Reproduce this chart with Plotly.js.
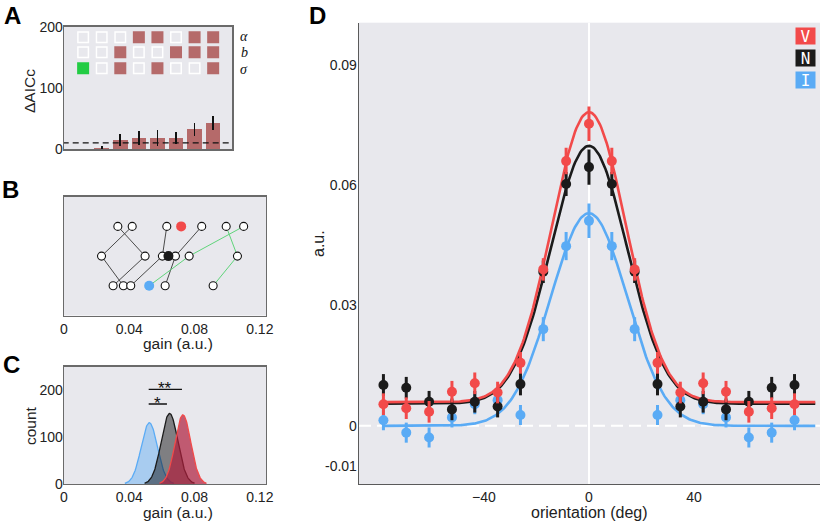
<!DOCTYPE html>
<html><head><meta charset="utf-8">
<script src="https://cdn.plot.ly/plotly-3.0.1.min.js"></script>
<style>html,body{margin:0;padding:0;background:#fff}#chart{width:820px;height:521px}</style>
</head><body><div id="chart"></div>
<script>
// ---------- Panel A data ----------
const aModels = ['m1','m2','m3','m4','m5','m6','m7','m8'];
const aDeltaAICc = [0, 2, 15.3, 18.6, 18.6, 19.1, 32.8, 42.6];
const aErr = [0, 3, 10, 12, 12.5, 10, 10.5, 11.5];
const aThreshold = 10.4;
const aParamLabels = ['α', 'b', 'σ'];
const aHasAlpha = [0, 0, 0, 1, 1, 0, 1, 1];
const aHasB     = [0, 0, 1, 0, 0, 1, 1, 1];
const aHasSigma = [2, 0, 1, 0, 1, 0, 0, 1]; // 2 = best model

// ---------- Panel B data (gain, a.u.) ----------
const bTop = [0.0330, 0.0418, 0.0630, 0.0844, 0.0994, 0.1101];
const bMid = [0.0230, 0.0497, 0.0603, 0.0683, 0.0767, 0.1063];
const bBot = [0.0301, 0.0364, 0.0409, 0.0620, 0.0914];
const bV = 0.0718, bN = 0.0640, bI = 0.0522;
const bEdgesBlack = [['T0','M1'],['T1','M0'],['M0','B1'],['M1','B0'],['B2','M2'],['T2','M2'],['T3','M3'],['M3','B3']];
const bEdgesGreen = [['I','M4'],['M4','T5'],['T4','M5'],['M5','B4']];

// ---------- Panel C data ----------
const cGroups = ['I', 'N', 'V'];
const cMean = [0.0523, 0.0647, 0.0729];
const cSd = [0.0050, 0.0051, 0.0048];
const cPeak = [131, 151, 148];
const cSigStart = [0.0519, 0.0519];
const cSigEnd = [0.0723, 0.0631];
const cSigLevel = [202.6, 171.2];
const cSigLabel = ['**', '*'];

// ---------- Panel D data ----------
const dOrient = [-78.3,-69.6,-60.9,-52.2,-43.5,-34.8,-26.1,-17.4,-8.7,0,8.7,17.4,26.1,34.8,43.5,52.2,60.9,69.6,78.3];
const dV = [0.0054,0.0044,0.0035,0.0085,0.0106,0.0083,0.0157,0.0390,0.0660,0.0753,0.0660,0.0390,0.0157,0.0083,0.0106,0.0085,0.0035,0.0044,0.0054];
const dN = [0.0102,0.0095,0.0060,0.0041,0.0060,0.0048,0.0104,0.0384,0.0603,0.0645,0.0603,0.0384,0.0104,0.0048,0.0060,0.0041,0.0060,0.0095,0.0102];
const dI = [0.0014,-0.0017,-0.0029,0.0021,0.0054,0.0064,0.0027,0.0241,0.0448,0.0511,0.0448,0.0241,0.0027,0.0064,0.0054,0.0021,-0.0029,-0.0017,0.0014];
const dErrV = [0.0027,0.0027,0.0027,0.0027,0.0027,0.0027,0.0027,0.0028,0.0033,0.0043,0.0033,0.0028,0.0027,0.0027,0.0027,0.0027,0.0027,0.0027,0.0027];
const dErrN = [0.0027,0.0027,0.0027,0.0027,0.0027,0.0027,0.0028,0.0028,0.0030,0.0044,0.0030,0.0028,0.0028,0.0027,0.0027,0.0027,0.0027,0.0027,0.0027];
const dErrI = [0.0025,0.0025,0.0025,0.0025,0.0025,0.0025,0.0025,0.0030,0.0035,0.0043,0.0035,0.0030,0.0025,0.0025,0.0025,0.0025,0.0025,0.0025,0.0025];
const dFitPeak = [0.0782, 0.0698, 0.0530];   // V, N, I
const dFitBase = [0.0059, 0.0055, 0.0];
const dFitSigma = [14.2, 14.5, 14.5];
const dFitEnd = 86.6;
const dLegend = ['V', 'N', 'I'];

// ---------- styling ----------
const W = 820, H = 521;
const fx = x => x / W, fy = y => 1 - y / H;
const FONT = 'Liberation Sans, Arial, Helvetica, sans-serif';
const BG = '#e8e8ed';
const RED = '#f24a4a', BLK = '#1b1b1b', BLU = '#5aabf5', BAR = '#b56a6a', GRN = '#22cc44';
const SERIES_COL = [RED, BLK, BLU];

const traces = [];

// Panel A bars
const aIdx = aModels.map((m, i) => i);
traces.push({type:'bar', x:aIdx, y:aDeltaAICc, width:0.78, marker:{color:BAR, line:{width:0}},
  error_y:{type:'data', array:aErr, color:'#111', thickness:1.6, width:0},
  xaxis:'x', yaxis:'y', hoverinfo:'skip', showlegend:false});
traces.push({type:'scatter', mode:'lines', x:[-1.1, 8.1], y:[aThreshold, aThreshold],
  line:{color:'#111', width:1.3, dash:'6px,4px'}, xaxis:'x', yaxis:'y', showlegend:false, hoverinfo:'skip'});
// model grid squares
const rowLevels = [183.6, 159.0, 132.8];
const rows = [aHasAlpha, aHasB, aHasSigma];
const sq = {empty:{x:[],y:[]}, full:{x:[],y:[]}, best:{x:[],y:[]}};
rows.forEach((r, ri) => r.forEach((v, ci) => {
  const t = v === 2 ? sq.best : (v === 1 ? sq.full : sq.empty);
  t.x.push(ci); t.y.push(rowLevels[ri]);
}));
traces.push({type:'scatter', mode:'markers', x:sq.empty.x, y:sq.empty.y, marker:{symbol:'square', size:10.5, color:BG, line:{color:'#ffffff', width:1.5}}, xaxis:'x', yaxis:'y', showlegend:false, hoverinfo:'skip'});
traces.push({type:'scatter', mode:'markers', x:sq.full.x, y:sq.full.y, marker:{symbol:'square', size:12, color:BAR, line:{width:0}}, xaxis:'x', yaxis:'y', showlegend:false, hoverinfo:'skip'});
traces.push({type:'scatter', mode:'markers', x:sq.best.x, y:sq.best.y, marker:{symbol:'square', size:12, color:GRN, line:{width:0}}, xaxis:'x', yaxis:'y', showlegend:false, hoverinfo:'skip'});

// Panel B
const nodes = {};
bTop.forEach((g, i) => nodes['T' + i] = [g, 3]);
bMid.forEach((g, i) => nodes['M' + i] = [g, 2]);
bBot.forEach((g, i) => nodes['B' + i] = [g, 1]);
nodes.V = [bV, 3]; nodes.N = [bN, 2]; nodes.I = [bI, 1];
function edgeTrace(edges, color) {
  const x = [], y = [];
  edges.forEach(([a, b]) => { x.push(nodes[a][0], nodes[b][0], null); y.push(nodes[a][1], nodes[b][1], null); });
  return {type:'scatter', mode:'lines', x, y, line:{color, width:1}, xaxis:'x2', yaxis:'y2', showlegend:false, hoverinfo:'skip'};
}
traces.push(edgeTrace(bEdgesBlack, '#4a4a4a'));
traces.push(edgeTrace(bEdgesGreen, '#5fd47a'));
const ox = [], oy = [];
[[bTop,3],[bMid,2],[bBot,1]].forEach(([arr, lv]) => arr.forEach(g => { ox.push(g); oy.push(lv); }));
traces.push({type:'scatter', mode:'markers', x:ox, y:oy, marker:{size:8, color:'#ffffff', line:{color:'#111', width:1.1}}, xaxis:'x2', yaxis:'y2', showlegend:false, hoverinfo:'skip'});
traces.push({type:'scatter', mode:'markers', x:[bV, bN, bI], y:[3, 2, 1], marker:{size:10, color:[RED, BLK, BLU], line:{width:0}}, xaxis:'x2', yaxis:'y2', showlegend:false, hoverinfo:'skip'});

// Panel C
const cLine = [BLU, BLK, RED];
const cFill = ['rgba(90,170,245,0.45)', 'rgba(0,0,0,0.45)', 'rgba(175,30,60,0.7)'];
cGroups.forEach((g, i) => {
  const x = [], y = [];
  for (let k = -60; k <= 60; k++) {
    const gx = cMean[i] + k * 3 * cSd[i] / 60;
    x.push(gx); y.push(cPeak[i] * Math.exp(-0.5 * Math.pow((gx - cMean[i]) / cSd[i], 2)));
  }
  traces.push({type:'scatter', mode:'lines', x, y, fill:'tozeroy', fillcolor:cFill[i], line:{color:cLine[i], width:1.3}, xaxis:'x3', yaxis:'y3', showlegend:false, hoverinfo:'skip'});
});
cSigLabel.forEach((s, i) => {
  traces.push({type:'scatter', mode:'lines', x:[cSigStart[i], cSigEnd[i]], y:[cSigLevel[i], cSigLevel[i]], line:{color:'#111', width:1.3}, xaxis:'x3', yaxis:'y3', showlegend:false, hoverinfo:'skip'});
});

// Panel D fits
const dSeries = [dV, dN, dI], dErrs = [dErrV, dErrN, dErrI];
[2, 1, 0].forEach(i => {
  const x = [], y = [];
  for (let t = dOrient[0]; t <= dFitEnd + 1e-9; t += 0.5) {
    x.push(t); y.push(dFitBase[i] + (dFitPeak[i] - dFitBase[i]) * Math.exp(-t * t / (2 * dFitSigma[i] * dFitSigma[i])));
  }
  traces.push({type:'scatter', mode:'lines', x, y, line:{color:SERIES_COL[i], width:2.6}, xaxis:'x4', yaxis:'y4', showlegend:false, hoverinfo:'skip'});
});
[2, 1, 0].forEach(i => {
  traces.push({type:'scatter', mode:'markers', x:dOrient, y:dSeries[i],
    error_y:{type:'data', array:dErrs[i], color:SERIES_COL[i], thickness:3, width:0},
    marker:{size:10, color:SERIES_COL[i], line:{width:0}}, xaxis:'x4', yaxis:'y4', showlegend:false, hoverinfo:'skip'});
});

// ---------- layout ----------
const tf = {family:FONT, size:14, color:'#222'};
const boxAx = {showgrid:false, zeroline:false, ticks:'', showline:true, mirror:true, linecolor:'#6a6a6a', linewidth:1.3, tickfont:tf, fixedrange:true};
const annotations = [];
function ann(text, x, y, opts) { annotations.push(Object.assign({text, x:fx(x), y:fy(y), xref:'paper', yref:'paper', showarrow:false, xanchor:'center', yanchor:'middle', font:{family:FONT, size:16, color:'#222'}}, opts || {})); }
// panel letters
[['A',12,16],['B',10.5,189],['C',11.2,364],['D',317.5,15]].forEach(([t,x,y]) => ann('<b>'+t+'</b>', x, y, {font:{family:FONT, size:24, color:'#000'}}));
// titles
ann('ΔAICc', 30, 91, {textangle:-90, font:{family:FONT, size:15.5, color:'#222'}});
ann('gain (a.u.)', 178, 343, {font:{family:FONT, size:15.5, color:'#222'}});
ann('count', 30, 425, {textangle:-90, font:{family:FONT, size:15.5, color:'#222'}});
ann('gain (a.u.)', 178, 512, {font:{family:FONT, size:15.5, color:'#222'}});
ann('a.u.', 318, 244, {textangle:-90, font:{family:FONT, size:16, color:'#222'}});
ann('orientation (deg)', 589, 512, {font:{family:FONT, size:16, color:'#222'}});
// parameter labels
[36, 52.5, 69].forEach((y, i) => ann('<i>' + aParamLabels[i] + '</i>', 244, y, {font:{family:'Liberation Serif, DejaVu Serif, serif', size:14, color:'#111'}}));
// stars
cSigLabel.forEach((s, i) => annotations.push({text:s, x:(cSigStart[i] + cSigEnd[i]) / 2, y:cSigLevel[i], xref:'x3', yref:'y3', showarrow:false, xanchor:'center', yanchor:'bottom', yshift:-11, font:{family:FONT, size:17, color:'#111'}}));
// legend boxes
dLegend.forEach((t, i) => ann(t, 805.5, [36.3, 58.3, 80.5][i], {bgcolor:SERIES_COL[i], width:19, height:16, borderpad:0, font:{family:'DejaVu Sans Mono, monospace', size:16, color:'#ffffff'}}));

const layout = {
  width:W, height:H, margin:{l:0, r:0, t:0, b:0}, paper_bgcolor:'#ffffff', plot_bgcolor:BG,
  font:{family:FONT, size:14, color:'#222'}, showlegend:false, bargap:0,
  xaxis: Object.assign({}, boxAx, {domain:[fx(64), fx(232.3)], range:[-1.03, 8.03], showticklabels:false, anchor:'y'}),
  yaxis: Object.assign({}, boxAx, {domain:[fy(149.3), fy(26.7)], range:[0, 201], tickvals:[0,100,200], anchor:'x', ticklabelstandoff:-3}),
  xaxis2: Object.assign({}, boxAx, {domain:[fx(64), fx(266)], range:[0, 0.1238], tickvals:[0,0.04,0.08,0.12], ticktext:['0','0.04','0.08','0.12'], anchor:'y2'}),
  yaxis2: Object.assign({}, boxAx, {domain:[fy(315.5), fy(196.7)], range:[0, 4], showticklabels:false, anchor:'x2'}),
  xaxis3: Object.assign({}, boxAx, {domain:[fx(64), fx(266)], range:[0, 0.1238], tickvals:[0,0.04,0.08,0.12], ticktext:['0','0.04','0.08','0.12'], anchor:'y3'}),
  yaxis3: Object.assign({}, boxAx, {domain:[fy(484), fy(366.7)], range:[0, 251], tickvals:[0,100,200], anchor:'x3', ticklabelstandoff:-3}),
  xaxis4: {domain:[fx(359), 1], range:[-87.6, 88.0], tickvals:[-40,0,40], showgrid:false, zeroline:false, ticks:'', showline:true, mirror:false, linecolor:'#5a5a5a', linewidth:1.3, tickfont:tf, anchor:'y4'},
  yaxis4: {domain:[fy(484), fy(22.7)], range:[-0.0145, 0.1005], tickvals:[-0.01,0,0.03,0.06,0.09], ticktext:['-0.01','0','0.03','0.06','0.09'], showgrid:false, zeroline:false, ticks:'', showline:true, mirror:false, linecolor:'#5a5a5a', linewidth:1.3, tickfont:tf, anchor:'x4', ticklabelstandoff:-2},
  shapes:[
    {type:'line', xref:'x4', yref:'y4 domain', x0:0, x1:0, y0:0, y1:1, line:{color:'#ffffff', width:2}, layer:'below'},
    {type:'line', xref:'x4 domain', yref:'y4', x0:0, x1:1, y0:0, y1:0, line:{color:'#ffffff', width:2, dash:'12px,6px'}, layer:'below'}
  ],
  annotations
};
Plotly.newPlot('chart', traces, layout, {staticPlot:true, displayModeBar:false});
</script></body></html>
